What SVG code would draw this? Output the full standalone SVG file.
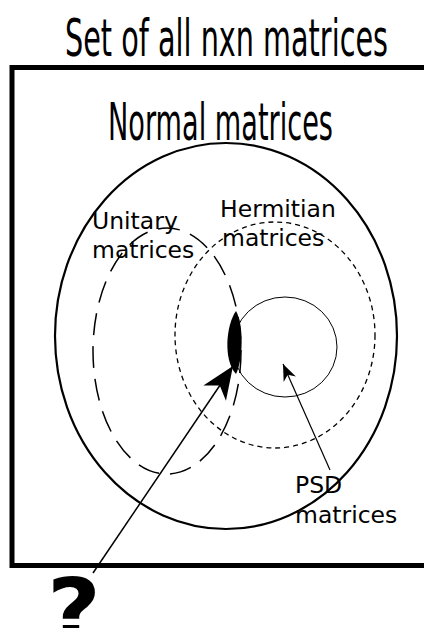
<svg xmlns="http://www.w3.org/2000/svg" width="424" height="628" viewBox="0 0 424 628">
<style>
text{font-family:"DejaVu Sans","Liberation Sans",sans-serif;fill:#000}
.big{font-size:52px}
.lbl{font-size:23.5px}
.ln{fill:none;stroke:#000}
</style>
<defs>
<marker id="ah1" markerUnits="userSpaceOnUse" orient="auto" refX="0" refY="0" markerWidth="40" markerHeight="40" viewBox="-20 -10 22 20" overflow="visible">
<path d="M0,0 L-18,-7.5 L-13,0 L-18,7.5 Z" fill="#000"/>
</marker>
<marker id="ah2" markerUnits="userSpaceOnUse" orient="auto" refX="0" refY="0" markerWidth="20" markerHeight="20" viewBox="-10 -5 12 10" overflow="visible">
<path d="M0,0 L-10,-4 L-7,0 L-10,4 Z" fill="#000"/>
</marker>
</defs>
<rect width="424" height="628" fill="#fff"/>
<g id="all">
<text class="big" x="65" y="56" textLength="323" lengthAdjust="spacingAndGlyphs">Set of all nxn matrices</text>
<rect class="ln" x="12" y="67.5" width="430" height="498" stroke-width="5"/>
</g>
<g id="normal">
<text class="big" x="108" y="140" textLength="225" lengthAdjust="spacingAndGlyphs">Normal matrices</text>
<ellipse class="ln" cx="226" cy="336" rx="171" ry="193" stroke-width="2.2"/>
</g>
<g id="unitary">
<ellipse class="ln" cx="167" cy="351" rx="74" ry="123" stroke-width="1.5" stroke-dasharray="22,11"/>
<text class="lbl" x="92" y="229">Unitary</text>
<text class="lbl" x="92" y="258">matrices</text>
</g>
<g id="hermitian">
<ellipse class="ln" cx="275" cy="335" rx="100" ry="113" stroke-width="1.3" stroke-dasharray="5,4"/>
<text class="lbl" x="220" y="217">Hermitian</text>
<text class="lbl" x="222" y="246">matrices</text>
</g>
<g id="psd">
<ellipse class="ln" cx="285" cy="347" rx="52" ry="50" stroke-width="1"/>
<text class="lbl" x="295" y="493">PSD</text>
<text class="lbl" x="295" y="523">matrices</text>
</g>
<g id="intersection">
<path d="M236,311 C226,325 223,360 236,374 C243,360 244,325 236,311 Z" fill="#000"/>
</g>
<g id="question">
<text x="47" y="640" style="font-size:85px;font-weight:bold" textLength="54" lengthAdjust="spacingAndGlyphs">?</text>
</g>
<g id="connectors">
<line class="ln" x1="93" y1="573" x2="233" y2="366" stroke-width="1.5" marker-end="url(#ah1)"/>
<line class="ln" x1="330" y1="470" x2="283" y2="364" stroke-width="1.2" marker-end="url(#ah2)"/>
</g>
</svg>
